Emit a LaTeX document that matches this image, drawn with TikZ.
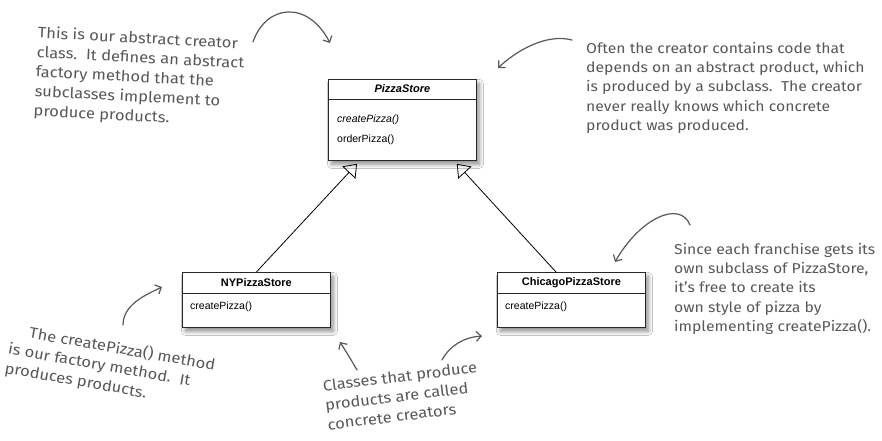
\documentclass[tikz,border=0pt]{standalone}
\usepackage{fontspec}
\setmainfont{Liberation Sans}
\newfontfamily\hand{Fira Sans}[FakeStretch=1.1]
\usetikzlibrary{arrows.meta,shadows.blur,calc}
\definecolor{handc}{RGB}{88,88,88}
\definecolor{boxc}{RGB}{40,40,40}
\begin{document}
\begin{tikzpicture}[x=1pt,y=-1pt,
 cls/.style={draw=boxc, line width=0.8pt, fill=white, minimum width=148pt, inner sep=0pt, anchor=north west,
   blur shadow={shadow xshift=3pt, shadow yshift=-4pt, shadow blur radius=4pt, shadow blur steps=10, shadow opacity=45}},
 sep/.style={draw=boxc, line width=0.8pt},
 ttl/.style={font=\fontsize{11}{13}\selectfont\bfseries, inner sep=0pt},
 mth/.style={font=\fontsize{10.5}{12}\selectfont, anchor=west, inner sep=0pt},
 gen/.style={line width=0.8pt, -{Triangle[open, length=12pt, width=18pt]}},
 note/.style={text=handc, font=\hand\fontsize{15}{19.5}\selectfont, align=left, anchor=north west, inner sep=0pt},
 notesm/.style={note, font=\hand\fontsize{14.3}{19.3}\selectfont},
 harrow/.style={draw=handc, line width=1.2pt, line cap=round, -{Straight Barb[length=5pt, width=10pt]}},
]
\fill[white] (0,0) rectangle (882,440);
\useasboundingbox (0,0) rectangle (882,440);

% PizzaStore
\node[cls, minimum height=81pt] (ps) at (328,79) {};
\draw[sep] ($(ps.north west)+(0,20)$) -- ($(ps.north east)+(0,20)$);
\node[ttl, font=\fontsize{11}{13}\selectfont\bfseries\itshape] (psname) at ($(ps.north)+(0,10)$) {PizzaStore};
\node[mth] (psm1) at ($(ps.north west)+(9,41)$) {\itshape createPizza()};
\node[mth] (psm2) at ($(ps.north west)+(9,61)$) {orderPizza()};

% NYPizzaStore
\node[cls, minimum height=55pt] (ny) at (182,272) {};
\draw[sep] ($(ny.north west)+(0,21)$) -- ($(ny.north east)+(0,21)$);
\node[ttl] (nyname) at ($(ny.north)+(0,11)$) {NYPizzaStore};
\node[mth] (nym1) at ($(ny.north west)+(8,35)$) {createPizza()};

% ChicagoPizzaStore
\node[cls, minimum height=55pt] (chi) at (497,272) {};
\draw[sep] ($(chi.north west)+(0,21)$) -- ($(chi.north east)+(0,21)$);
\node[ttl] (chiname) at ($(chi.north)+(0,11)$) {ChicagoPizzaStore};
\node[mth] (chim1) at ($(chi.north west)+(8,35)$) {createPizza()};

% generalization connectors
\coordinate (tipL) at ($(ps.south west)+(29,3)$);
\coordinate (tipR) at ($(ps.south east)+(-20,3)$);
\coordinate (chiA) at ($(chi.north west)+(59,0)$);
\draw[gen] (ny.north) -- (tipL);
\draw[gen] (chiA) -- (tipR);

% annotations
\node[note, rotate=-3] (n1) at (38,26) {This is our abstract creator\\class.\ \ It defines an abstract\\factory method that the\\subclasses implement to\\produce products.};
\node[notesm] (n2) at (586,42) {Often the creator contains code that\\depends on an abstract product, which\\is produced by a subclass.\ \ The creator\\never really knows which concrete\\product was produced.};
\node[notesm] (n5) at (674,243) {Since each franchise gets its\\own subclass of PizzaStore,\\it’s free to create its\\own style of pizza by\\implementing createPizza().};
\node[note, rotate=-10] (n3) at (13,322) {\hspace*{18pt}The createPizza() method\\is our factory method.\ \ It\\produces products.};
\node[note, rotate=7] (n4) at (322,380) {Classes that produce\\products are called\\concrete creators};

% annotation arrows
\coordinate (a1s) at (253,42); \coordinate (a1e) at (330,43);
\draw[harrow] (a1s) .. controls (266,4) and (308,0) .. (a1e);
\coordinate (a2s) at (572,40); \coordinate (a2e) at (498,68);
\draw[harrow] (a2s) .. controls (545,33) and (515,52) .. (a2e);
\coordinate (a5s) at (690,225); \coordinate (a5e) at (615,262);
\draw[harrow] (a5s) .. controls (680,200) and (640,218) .. (a5e);
\coordinate (a3s) at (123,325); \coordinate (a3e) at (162,287);
\draw[harrow] (a3s) .. controls (123,305) and (145,295) .. (a3e);
\coordinate (a4s) at (357,370); \coordinate (a4e) at (340,342);
\draw[harrow] (a4s) .. controls (350,358) .. (a4e);
\coordinate (a6s) at (442,360); \coordinate (a6e) at (482,336);
\draw[harrow] (a6s) .. controls (450,345) and (465,337) .. (a6e);
\end{tikzpicture}
\end{document}
